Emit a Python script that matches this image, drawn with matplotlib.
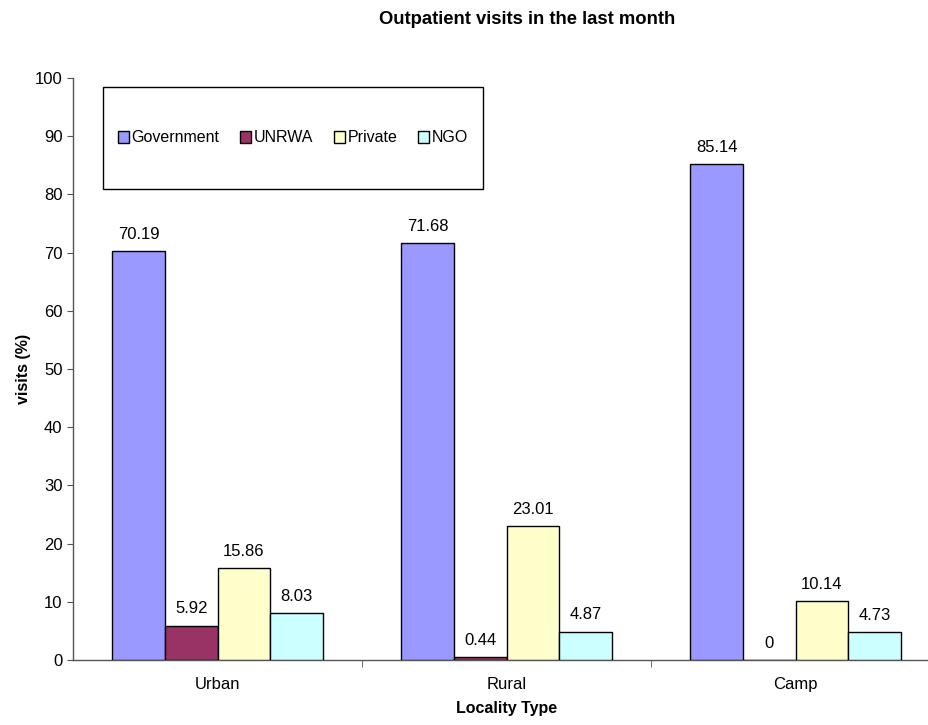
import matplotlib
matplotlib.use("Agg")
import matplotlib.pyplot as plt
from matplotlib.patches import Rectangle
import numpy as np

plt.rcParams['font.family'] = ['Liberation Sans', 'DejaVu Sans']

categories = ["Urban", "Rural", "Camp"]
series_names = ["Government", "UNRWA", "Private", "NGO"]
government = [70.19, 71.68, 85.14]
unrwa = [5.92, 0.44, 0.0]
private = [15.86, 23.01, 10.14]
ngo = [8.03, 4.87, 4.73]
colors = ["#9999FF", "#993366", "#FFFFCC", "#CCFFFF"]
yticks = list(range(0, 101, 10))

fig = plt.figure(figsize=(9.29, 7.25), dpi=100)
ax = fig.add_axes([73 / 929, 65 / 725, 867 / 929, 582 / 725])

x = np.arange(len(categories))
bw = 0.182
values = [government, unrwa, private, ngo]
for i, (name, vals, col) in enumerate(zip(series_names, values, colors)):
    pos = x + (i - 1.5) * bw
    ax.bar(pos, vals, width=bw, color=col, edgecolor="black", linewidth=1.0,
           label=name, zorder=3)
    for xp, v in zip(pos, vals):
        ax.annotate(f"{v:g}", (xp, v), xytext=(0, 12), textcoords="offset points",
                    ha="center", va="center", fontsize=12)

ax.set_xlim(-0.5, 2.5)
ax.set_ylim(0, 100)
ax.set_yticks(yticks)
ax.tick_params(axis="y", labelsize=12, length=4, direction="out", color="#555555")
ax.set_xticks(x)
ax.set_xticklabels(categories, fontsize=12)
ax.tick_params(axis="x", length=0, pad=12.5)
ax.set_xticks([0.5, 1.5], minor=True)
ax.tick_params(axis="x", which="minor", length=5, direction="out", color="#555555")
for s in ["top", "right"]:
    ax.spines[s].set_visible(False)
for s in ["left", "bottom"]:
    ax.spines[s].set_color("#555555")
    ax.spines[s].set_linewidth(1.0)

ax.set_ylabel("visits (%)", fontsize=11.5, fontweight="bold", labelpad=3)
ax.set_xlabel("Locality Type", fontsize=11.5, fontweight="bold", labelpad=6)
fig.text(527 / 929, 1 - 20 / 725, "Outpatient visits in the last month",
         ha="center", va="center", fontsize=13.3, fontweight="bold")

# legend frame
x0 = (103 - 73) / 867
x1 = (483 - 73) / 867
y1 = (660 - 87) / 582
y0 = (660 - 189) / 582
ax.add_patch(Rectangle((x0, y0), x1 - x0, y1 - y0, transform=ax.transAxes,
                       fill=True, facecolor="white", edgecolor="black",
                       linewidth=1.0, zorder=5))
leg = ax.legend(loc="center", bbox_to_anchor=((x0 + x1) / 2, (y0 + y1) / 2),
                ncol=4, frameon=False, fontsize=11.5, handlelength=0.7,
                handleheight=0.7, handletextpad=0.15, columnspacing=1.3)
leg.set_zorder(6)

fig.savefig("out.png", dpi=100)
